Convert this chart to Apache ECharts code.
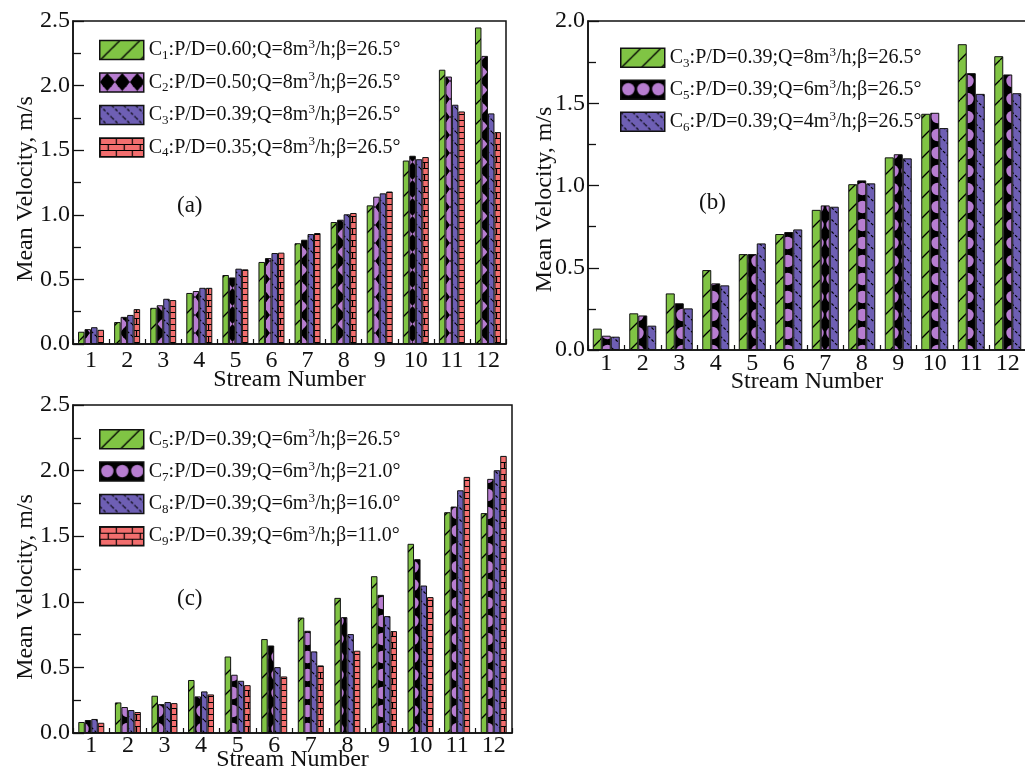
<!DOCTYPE html>
<html><head><meta charset="utf-8">
<script src="https://cdn.jsdelivr.net/npm/echarts@6/dist/echarts.min.js"></script>
<style>html,body{margin:0;padding:0;background:#fff}#c{width:1025px;height:772px}</style>
</head><body><div id="c"></div>
<script>
// ---------------- data ----------------
const streams = ['1','2','3','4','5','6','7','8','9','10','11','12'];

// panel (a)
const aC1 = [0.095,0.17,0.28,0.395,0.534,0.635,0.78,0.944,1.073,1.42,2.123,2.45];
const aC2 = [0.115,0.21,0.30,0.41,0.515,0.665,0.807,0.962,1.14,1.457,2.07,2.23];
const aC3 = [0.13,0.225,0.35,0.435,0.583,0.704,0.851,1.004,1.166,1.43,1.852,1.785];
const aC4 = [0.11,0.27,0.34,0.435,0.578,0.707,0.859,1.014,1.18,1.447,1.80,1.64];
// panel (b)
const bC3 = [0.13,0.223,0.344,0.486,0.583,0.705,0.852,1.008,1.171,1.436,1.859,1.786];
const bC5 = [0.087,0.21,0.284,0.405,0.583,0.717,0.879,1.031,1.19,1.442,1.683,1.675];
const bC6 = [0.081,0.148,0.253,0.393,0.648,0.733,0.871,1.013,1.165,1.349,1.557,1.561];
// panel (c)
const cC5 = [0.084,0.233,0.284,0.404,0.583,0.716,0.88,1.03,1.195,1.442,1.683,1.676];
const cC7 = [0.099,0.198,0.22,0.279,0.444,0.667,0.779,0.883,1.053,1.325,1.726,1.937];
const cC8 = [0.107,0.175,0.236,0.317,0.398,0.502,0.622,0.754,0.891,1.124,1.85,2.003];
const cC9 = [0.078,0.16,0.228,0.294,0.365,0.431,0.515,0.627,0.777,1.036,1.952,2.112];

// legend labels: [case index, P/D, Q, beta]
const aLabels = [['1','0.60','8','26.5'],['2','0.50','8','26.5'],['3','0.39','8','26.5'],['4','0.35','8','26.5']];
const bLabels = [['3','0.39','8','26.5'],['5','0.39','6','26.5'],['6','0.39','4','26.5']];
const cLabels = [['5','0.39','6','26.5'],['7','0.39','6','21.0'],['8','0.39','6','16.0'],['9','0.39','6','11.0']];

const yTicksAC = {min:0, max:2.5, interval:0.5};
const yTicksB = {min:0, max:2.0, interval:0.5};

// ---------------- styles ----------------
const FONT = 'Liberation Serif';
const INK = '#111';
const GREEN = '#80C444', PURPLE = '#6E5FB4', ORCHID = '#B77DD0', RED = '#F26E6E';

function pat(w, h, draw) {
  const c = document.createElement('canvas');
  c.width = w; c.height = h;
  const g = c.getContext('2d');
  draw(g, w, h);
  return {image: c, repeat: 'repeat'};
}
const hatchGreen = pat(20, 20, (g, w, h) => {
  g.fillStyle = GREEN; g.fillRect(0, 0, w, h);
  g.strokeStyle = '#000'; g.lineWidth = 1.3;
  for (const o of [-w, 0, w]) { g.beginPath(); g.moveTo(o, h); g.lineTo(o + w, 0); g.stroke(); }
});
const diagPurple = pat(12, 12, (g, w, h) => {
  g.fillStyle = PURPLE; g.fillRect(0, 0, w, h);
  g.strokeStyle = '#000'; g.lineWidth = 1.2; g.setLineDash([3, 2]);
  for (const o of [-w, 0, w]) { g.beginPath(); g.moveTo(o, 0); g.lineTo(o + w, h); g.stroke(); }
});
const brickRed = pat(16, 12, (g, w, h) => {
  g.fillStyle = RED; g.fillRect(0, 0, w, h);
  g.strokeStyle = '#000'; g.lineWidth = 1.2;
  g.beginPath();
  g.moveTo(0, 0.5); g.lineTo(w, 0.5);
  g.moveTo(0, 6.5); g.lineTo(w, 6.5);
  g.moveTo(0.5, 0); g.lineTo(0.5, 6.5);
  g.moveTo(8.5, 6.5); g.lineTo(8.5, h);
  g.stroke();
});
const diamondOrchid = pat(15, 18, (g, w, h) => {
  g.fillStyle = ORCHID; g.fillRect(0, 0, w, h);
  g.fillStyle = '#000';
  g.beginPath(); g.moveTo(w/2, 0); g.lineTo(w, h/2); g.lineTo(w/2, h); g.lineTo(0, h/2); g.closePath(); g.fill();
  g.beginPath(); g.arc(w/2, h/2, 6, 0, Math.PI*2); g.fill();
});
const circleBlack = pat(15, 18, (g, w, h) => {
  g.fillStyle = '#000'; g.fillRect(0, 0, w, h);
  g.fillStyle = ORCHID;
  g.beginPath(); g.arc(w/2, h/2, 6.2, 0, Math.PI*2); g.fill();
});

function legendText(l) {
  return '{t|C}{s|' + l[0] + '}{t|:P/D=' + l[1] + ';Q=' + l[2] + 'm}{p|3}{t|/h;β=' + l[3] + '°}';
}
const labelMap = {};
aLabels.forEach((l, i) => labelMap['a' + i] = legendText(l));
bLabels.forEach((l, i) => labelMap['b' + i] = legendText(l));
cLabels.forEach((l, i) => labelMap['c' + i] = legendText(l));

const richStyle = {
  t: {fontFamily: FONT, fontSize: 20, lineHeight: 24, color: INK, verticalAlign: 'middle'},
  s: {fontFamily: FONT, fontSize: 13, lineHeight: 13, color: INK, verticalAlign: 'bottom'},
  p: {fontFamily: FONT, fontSize: 13, lineHeight: 13, color: INK, verticalAlign: 'top'}
};

function legend(names, left, top, gap) {
  return {
    data: names, orient: 'vertical', left: left, top: top,
    itemWidth: 44, itemHeight: 19, itemGap: gap, icon: 'rect', selectedMode: false,
    formatter: n => labelMap[n],
    itemStyle: {borderColor: INK, borderWidth: 1.5},
    textStyle: {fontFamily: FONT, fontSize: 20, color: INK, rich: richStyle}
  };
}

function bar(name, data, color, gi, bw) {
  return {
    name, type: 'bar', data, xAxisIndex: gi, yAxisIndex: gi,
    barWidth: bw, barGap: '0%',
    itemStyle: {color, borderColor: INK, borderWidth: 1},
    emphasis: {disabled: true}, animation: false
  };
}

const axisLineStyle = {color: INK, width: 1.5};
function xAxis(gi, margin, nameGap) {
  return {
    type: 'category', gridIndex: gi, data: streams,
    axisLine: {lineStyle: axisLineStyle},
    axisTick: {show: true, inside: true, length: 5, lineStyle: {color: INK, width: 1.2}},
    axisLabel: {fontFamily: FONT, fontSize: 24, color: INK, margin: margin},
    name: 'Stream Number', nameLocation: 'middle', nameGap: nameGap, nameMoveOverlap: false,
    nameTextStyle: {fontFamily: FONT, fontSize: 24, color: INK}
  };
}
function yAxis(gi, ticks, nameGap, shift) {
  return {
    type: 'value', gridIndex: gi, min: ticks.min, max: ticks.max, interval: ticks.interval,
    axisLine: {show: true, lineStyle: axisLineStyle},
    axisTick: {show: true, inside: true, length: 11, lineStyle: {color: INK, width: 1.3}},
    minorTick: {show: true, splitNumber: 2, length: 8, lineStyle: {color: INK, width: 1.3}},
    splitLine: {show: false},
    axisLabel: {fontFamily: FONT, fontSize: 24, color: INK, margin: 3, formatter: v => v.toFixed(1)},
    name: 'Mean Velocity, m/s', nameLocation: 'middle', nameGap: nameGap, nameMoveOverlap: false,
    nameTextStyle: {fontFamily: FONT, fontSize: 24, color: INK, padding: [0, shift, 0, 0]}
  };
}

const gridStyle = {show: true, borderColor: INK, borderWidth: 1.5, backgroundColor: 'transparent',
  containLabel: false, outerBoundsMode: 'none'};

const option = {
  backgroundColor: '#fff',
  animation: false,
  grid: [
    Object.assign({left: 73, top: 21, width: 433, height: 323}, gridStyle),
    Object.assign({left: 588, top: 21, width: 438, height: 329}, gridStyle),
    Object.assign({left: 73, top: 405, width: 439, height: 328}, gridStyle)
  ],
  xAxis: [xAxis(0, 5, 24), xAxis(1, 2, 20), xAxis(2, 1, 15)],
  yAxis: [yAxis(0, yTicksAC, 35, 13), yAxis(1, yTicksB, 31, 28), yAxis(2, yTicksAC, 35, 36)],
  legend: [
    legend(['a0','a1','a2','a3'], 94, 33, 8.5),
    legend(['b0','b1','b2'], 615, 40.7, 8),
    legend(['c0','c1','c2','c3'], 94, 422.3, 8.3)
  ],
  graphic: [
    {type: 'text', left: 177, top: 194, style: {text: '(a)', font: '23px "Liberation Serif"', fill: INK}},
    {type: 'text', left: 699, top: 191, style: {text: '(b)', font: '23px "Liberation Serif"', fill: INK}},
    {type: 'text', left: 177, top: 587, style: {text: '(c)', font: '23px "Liberation Serif"', fill: INK}}
  ],
  series: [
    bar('a0', aC1, hatchGreen, 0, 6.5),
    bar('a1', aC2, diamondOrchid, 0, 6.5),
    bar('a2', aC3, diagPurple, 0, 6.5),
    bar('a3', aC4, brickRed, 0, 6.5),
    bar('b0', bC3, hatchGreen, 1, 9),
    bar('b1', bC5, circleBlack, 1, 9),
    bar('b2', bC6, diagPurple, 1, 9),
    bar('c0', cC5, hatchGreen, 2, 6.5),
    bar('c1', cC7, circleBlack, 2, 6.5),
    bar('c2', cC8, diagPurple, 2, 6.5),
    bar('c3', cC9, brickRed, 2, 6.5)
  ]
};
const chart = echarts.init(document.getElementById('c'), null, {renderer: 'canvas'});
chart.setOption(option);
</script>
</body></html>
